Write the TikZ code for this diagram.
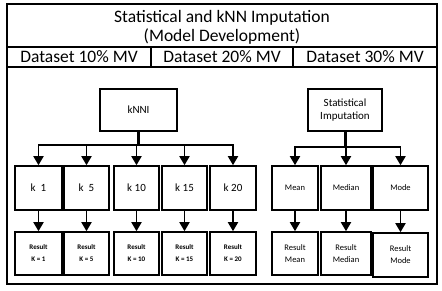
\documentclass[tikz,border=0pt]{standalone}
\usepackage{fontspec}
\setmainfont{Carlito}
\usetikzlibrary{arrows.meta}
\begin{document}
\begin{tikzpicture}[x=1pt,y=-1pt,
  box/.style={draw,line width=1.6pt,inner sep=0pt,align=center},
  arr/.style={line width=1.8pt,-{Triangle[width=10pt,length=9pt]}},
  trunk/.style={line width=3pt},
  big/.style={font=\fontsize{17.5}{19}\selectfont},
  mid/.style={font=\fontsize{11}{13}\selectfont},
  sm/.style={font=\fontsize{8.5}{12}\selectfont},
  tiny/.style={font=\fontsize{7}{12}\selectfont}]
\useasboundingbox (0,0) rectangle (442,290);
\draw[line width=1.5pt] (7,4) rectangle (437,284);
\draw[line width=1.2pt] (7,47) -- (437,47);
\draw[line width=1.2pt] (7,67) -- (437,67);
\draw[line width=1.2pt] (151,47) -- (151,67);
\draw[line width=1.2pt] (293,47) -- (293,67);
\node[big,align=center] (title) at (222,27) {Statistical and kNN Imputation\\(Model Development)};
\node[big] (d1) at (79,57) {Dataset 10\% MV};
\node[big] (d2) at (222,57) {Dataset 20\% MV};
\node[big] (d3) at (365,57) {Dataset 30\% MV};
% top boxes
\node[box,mid,minimum width=77pt,minimum height=42pt] (knni) at (138.5,110) {kNNI};
\node[box,mid,minimum width=74pt,minimum height=42pt] (stat) at (345,110) {Statistical\\Imputation};
% k boxes
\foreach \n/\x/\w/\t in {k1/38.5/47/{k\ \ 1},k5/86.5/45/{k\ \ 5},k10/136.5/45/{k 10},k15/184.5/45/{k 15},k20/233/46/{k 20}}
  \node[box,mid,minimum width=\w pt,minimum height=44pt] (\n) at (\x,188) {\t};
\foreach \n/\x/\w/\t in {r1/38.5/47/{K = 1},r5/86.5/45/{K = 5},r10/136.5/45/{K = 10},r15/184.5/45/{K = 15},r20/233/46/{K = 20}}
  \node[box,tiny,minimum width=\w pt,minimum height=43pt] (\n) at (\x,253.5) {\textbf{Result}\\\textbf{\t}};
% statistical boxes
\node[box,sm,minimum width=46pt,minimum height=44pt] (mean) at (295,188) {Mean};
\node[box,sm,minimum width=50pt,minimum height=44pt] (median) at (346,188) {Median};
\node[box,sm,minimum width=55pt,minimum height=44pt] (mode) at (400.5,188) {Mode};
\node[box,sm,minimum width=46pt,minimum height=43pt] (rmean) at (295,253.5) {Result\\Mean};
\node[box,sm,minimum width=50pt,minimum height=43pt] (rmedian) at (346,253.5) {Result\\Median};
\node[box,sm,minimum width=55pt,minimum height=44pt] (rmode) at (400.5,255) {Result\\Mode};
% kNNI tree
\draw[trunk] (knni.south) -- ++(0,13) coordinate (kb);
\foreach \n in {k1,k5,k10,k15,k20} \draw[arr] (kb) -| (\n.north);
\draw[trunk] (stat.south) -- ++(0,15) coordinate (sb);
\foreach \n in {mean,median,mode} \draw[arr] (sb) -| (\n.north);
% down arrows
\foreach \a/\b in {k1/r1,k5/r5,k10/r10,k15/r15,k20/r20,mean/rmean,median/rmedian,mode/rmode}
  \draw[arr] (\a.south) -- (\b.north);
\end{tikzpicture}
\end{document}
